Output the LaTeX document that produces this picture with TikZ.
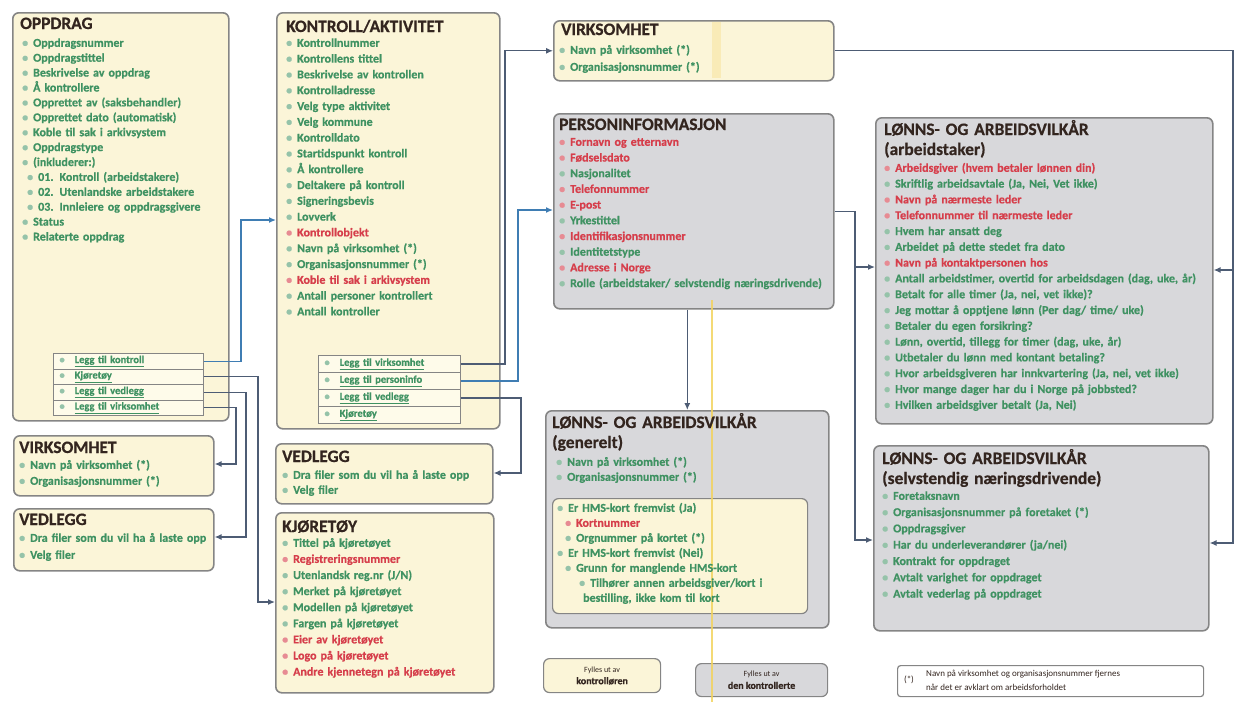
\documentclass[tikz,border=0pt]{standalone}
\usepackage{fontspec}
\setmainfont{Carlito}[BoldFeatures={FakeBold=0.6}]
\usetikzlibrary{arrows.meta}
\definecolor{yfill}{HTML}{FBF5D8}
\definecolor{gfill}{HTML}{D8D8DB}
\definecolor{bord}{HTML}{858585}
\definecolor{rowf}{HTML}{FEFBEA}
\definecolor{tg}{HTML}{3F9262}
\definecolor{tr}{HTML}{D63E4B}
\definecolor{tt}{HTML}{33251F}
\definecolor{connc}{HTML}{4D5C74}
\definecolor{connb}{HTML}{3F7DB3}
\definecolor{hl}{HTML}{F2D35E}
\newcommand\gi[1]{{\color{tg!55}\textbullet}\hspace{5pt}{\color{tg}#1}}
\newcommand\ri[1]{{\color{tr!60}\textbullet}\hspace{5pt}{\color{tr}#1}}
\newcommand\rowt[1]{{\color{tg!55}\textbullet}\hspace{10pt}{\color{tg}\underline{#1}}}
\tikzset{
  box/.style={anchor=north west, draw=bord, line width=1.6pt, rounded corners=6pt, inner sep=0pt},
  ybox/.style={box, fill=yfill},
  gbox/.style={box, fill=gfill},
  ttl/.style={anchor=base west, inner sep=0pt, text=tt, text width=340pt, align=left,
    font=\bfseries\fontsize{17.4}{20}\selectfont},
  itm/.style={anchor=base west, inner sep=0pt, text width=340pt, align=left,
    font=\bfseries\fontsize{12}{#1}\selectfont},
  rowA/.style={anchor=north west, draw=bord, line width=1pt, fill=rowf, minimum height=15.5pt,
    text width=138pt, inner xsep=6pt, inner ysep=0pt, align=left, font=\bfseries\fontsize{10.5}{11}\selectfont},
  rowB/.style={rowA, minimum height=17pt, text width=130pt},
  conn/.style={draw=connc, line width=1.3pt, -{Latex[length=7pt,width=6pt]}},
}
\begin{document}
\begin{tikzpicture}[x=1pt,y=-1pt]
\useasboundingbox (0,0) rectangle (1237,702);

% ---------------- boxes ----------------
\node[ybox, minimum width=216pt, minimum height=408pt] (opp) at (12,12) {};
\node[ybox, minimum width=223pt, minimum height=416pt] (kon) at (276,12) {};
\node[ybox, minimum width=200pt, minimum height=60pt] (vi) at (13,435) {};
\node[ybox, minimum width=200pt, minimum height=62pt] (vl) at (13,508) {};
\node[ybox, minimum width=217pt, minimum height=60pt] (vm) at (275,443) {};
\node[ybox, minimum width=218pt, minimum height=180pt] (kj) at (275,512) {};
\node[ybox, minimum width=280pt, minimum height=60pt] (vt) at (553,20) {};
\node[gbox, minimum width=280pt, minimum height=195pt] (pers) at (553,113) {};
\node[gbox, minimum width=283pt, minimum height=217pt] (gen) at (545,410) {};
\node[ybox, line width=1.2pt, minimum width=255pt, minimum height=115pt] (geni) at (552,498) {};
\node[gbox, minimum width=337pt, minimum height=306pt] (arb) at (875,117) {};
\node[gbox, minimum width=335pt, minimum height=185pt] (selv) at (873,445) {};
\node[ybox, line width=1.2pt, minimum width=117pt, minimum height=34pt] (leg1) at (543,658) {};
\node[gbox, line width=1.2pt, minimum width=132pt, minimum height=33pt] (leg2) at (695,663) {};
\node[box, fill=white, line width=1.2pt, rounded corners=3pt, minimum width=306pt, minimum height=31pt] (fn) at (897,665) {};

% highlight marks of the original
\fill[hl!45] (712,22) rectangle (721,78);
\fill[hl, opacity=0.85] (711,300) rectangle (713,702);

% ---------------- OPPDRAG ----------------
\node[ttl] (oppT) at (20,29) {OPPDRAG};
\node[itm=14.9] (oppI) at (22,46.8) {\gi{Oppdragsnummer}\\
\gi{Oppdragstittel}\\
\gi{Beskrivelse av oppdrag}\\
\gi{Å kontrollere}\\
\gi{Opprettet av (saksbehandler)}\\
\gi{Opprettet dato (automatisk)}\\
\gi{Koble til sak i arkivsystem}\\
\gi{Oppdragstype}\\
\gi{(inkluderer:)}\\
\hspace*{5pt}\gi{01. Kontroll (arbeidstakere)}\\
\hspace*{5pt}\gi{02. Utenlandske arbeidstakere}\\
\hspace*{5pt}\gi{03. Innleiere og oppdragsgivere}\\
\gi{Status}\\
\gi{Relaterte oppdrag}};
\node[rowA] (or1) at (53,353) {\rowt{Legg til kontroll}};
\node[rowA] (or2) at (53,368.5) {\rowt{Kjøretøy}};
\node[rowA] (or3) at (53,384) {\rowt{Legg til vedlegg}};
\node[rowA] (or4) at (53,399.5) {\rowt{Legg til virksomhet}};

% ---------------- KONTROLL/AKTIVITET ----------------
\node[ttl] (konT) at (286,32) {KONTROLL/AKTIVITET};
\node[itm=15.8] (konI) at (286,46.8) {\gi{Kontrollnummer}\\
\gi{Kontrollens tittel}\\
\gi{Beskrivelse av kontrollen}\\
\gi{Kontrolladresse}\\
\gi{Velg type aktivitet}\\
\gi{Velg kommune}\\
\gi{Kontrolldato}\\
\gi{Startidspunkt kontroll}\\
\gi{Å kontrollere}\\
\gi{Deltakere på kontroll}\\
\gi{Signeringsbevis}\\
\gi{Lovverk}\\
\ri{Kontrollobjekt}\\
\gi{Navn på virksomhet (*)}\\
\gi{Organisasjonsnummer (*)}\\
\ri{Koble til sak i arkivsystem}\\
\gi{Antall personer kontrollert}\\
\gi{Antall kontroller}};
\node[rowB] (kr1) at (318,355) {\rowt{Legg til virksomhet}};
\node[rowB] (kr2) at (318,372) {\rowt{Legg til personinfo}};
\node[rowB] (kr3) at (318,389) {\rowt{Legg til vedlegg}};
\node[rowB] (kr4) at (318,406) {\rowt{Kjøretøy}};

% ---------------- VIRKSOMHET / VEDLEGG left ----------------
\node[ttl] (viT) at (19,453) {VIRKSOMHET};
\node[itm=16] (viI) at (19,468.8) {\gi{Navn på virksomhet (*)}\\ \gi{Organisasjonsnummer (*)}};
\node[ttl] (vlT) at (19,525) {VEDLEGG};
\node[itm=17] (vlI) at (19,541.8) {\gi{Dra filer som du vil ha å laste opp}\\ \gi{Velg filer}};

% ---------------- VEDLEGG / KJØRETØY middle ----------------
\node[ttl] (vmT) at (282,462) {VEDLEGG};
\node[itm=15] (vmI) at (282,478.8) {\gi{Dra filer som du vil ha å laste opp}\\ \gi{Velg filer}};
\node[ttl] (kjT) at (282,532) {KJØRETØY};
\node[itm=16.1] (kjI) at (282,546.8) {\gi{Tittel på kjøretøyet}\\
\ri{Registreringsnummer}\\
\gi{Utenlandsk reg.nr (J/N)}\\
\gi{Merket på kjøretøyet}\\
\gi{Modellen på kjøretøyet}\\
\gi{Fargen på kjøretøyet}\\
\ri{Eier av kjøretøyet}\\
\ri{Logo på kjøretøyet}\\
\ri{Andre kjennetegn på kjøretøyet}};

% ---------------- VIRKSOMHET top ----------------
\node[ttl] (vtT) at (561,35) {VIRKSOMHET};
\node[itm=17] (vtI) at (559,53.8) {\gi{Navn på virksomhet (*)}\\ \gi{Organisasjonsnummer (*)}};

% ---------------- PERSONINFORMASJON ----------------
\node[ttl] (persT) at (559,130) {PERSONINFORMASJON};
\node[itm=15.7] (persI) at (559,145.8) {\ri{Fornavn og etternavn}\\
\ri{Fødselsdato}\\
\gi{Nasjonalitet}\\
\ri{Telefonnummer}\\
\ri{E-post}\\
\gi{Yrkestittel}\\
\ri{Identifikasjonsnummer}\\
\gi{Identitetstype}\\
\ri{Adresse i Norge}\\
\gi{Rolle (arbeidstaker/ selvstendig næringsdrivende)}};

% ---------------- LØNNS- OG ARBEIDSVILKÅR (generelt) ----------------
\node[ttl] (genT) at (552,428) {LØNNS- OG ARBEIDSVILKÅR\\(generelt)};
\node[itm=15] (genI) at (556,465.8) {\gi{Navn på virksomhet (*)}\\ \gi{Organisasjonsnummer (*)}};
\node[itm=15] (geniI) at (557,511.8) {\gi{Er HMS-kort fremvist (Ja)}\\
\hspace*{8pt}\ri{Kortnummer}\\
\hspace*{8pt}\gi{Orgnummer på kortet (*)}\\
\gi{Er HMS-kort fremvist (Nei)}\\
\hspace*{8pt}\gi{Grunn for manglende HMS-kort}\\
\hspace*{22pt}\gi{Tilhører annen arbeidsgiver/kort i}\\
\hspace*{26pt}{\color{tg}bestilling, ikke kom til kort}};

% ---------------- LØNNS- OG ARBEIDSVILKÅR (arbeidstaker) ----------------
\node[ttl] (arbT) at (884,135) {LØNNS- OG ARBEIDSVILKÅR\\(arbeidstaker)};
\node[itm=15.8] (arbI) at (884,171.8) {\ri{Arbeidsgiver (hvem betaler lønnen din)}\\
\gi{Skriftlig arbeidsavtale (Ja, Nei, Vet ikke)}\\
\ri{Navn på nærmeste leder}\\
\ri{Telefonnummer til nærmeste leder}\\
\gi{Hvem har ansatt deg}\\
\gi{Arbeidet på dette stedet fra dato}\\
\ri{Navn på kontaktpersonen hos}\\
\gi{Antall arbeidstimer, overtid for arbeidsdagen (dag, uke, år)}\\
\gi{Betalt for alle timer (Ja, nei, vet ikke)?}\\
\gi{Jeg mottar å opptjene lønn (Per dag/ time/ uke)}\\
\gi{Betaler du egen forsikring?}\\
\gi{Lønn, overtid, tillegg for timer (dag, uke, år)}\\
\gi{Utbetaler du lønn med kontant betaling?}\\
\gi{Hvor arbeidsgiveren har innkvartering (Ja, nei, vet ikke)}\\
\gi{Hvor mange dager har du i Norge på jobbsted?}\\
\gi{Hvilken arbeidsgiver betalt (Ja, Nei)}};

% ---------------- LØNNS- OG ARBEIDSVILKÅR (selvstendig) ----------------
\node[ttl] (selvT) at (882,464) {LØNNS- OG ARBEIDSVILKÅR\\(selvstendig næringsdrivende)};
\node[itm=16.3] (selvI) at (882,499.8) {\gi{Foretaksnavn}\\
\gi{Organisasjonsnummer på foretaket (*)}\\
\gi{Oppdragsgiver}\\
\gi{Har du underleverandører (ja/nei)}\\
\gi{Kontrakt for oppdraget}\\
\gi{Avtalt varighet for oppdraget}\\
\gi{Avtalt vederlag på oppdraget}};

% ---------------- legend / footnote ----------------
\node[align=center, text=tt, inner sep=0pt] (leg1T) at (leg1.center)
  {{\fontsize{8}{11}\selectfont Fylles ut av}\\{\bfseries\fontsize{10}{12}\selectfont kontrolløren}};
\node[align=center, text=tt, inner sep=0pt] (leg2T) at (leg2.center)
  {{\fontsize{8}{11}\selectfont Fylles ut av}\\{\bfseries\fontsize{10}{12}\selectfont den kontrollerte}};
\node[text=tt, inner sep=0pt, font=\fontsize{9}{10}\selectfont] (fnA) at (909,680) {(*)};
\node[anchor=west, align=left, text=tt, inner sep=0pt, font=\fontsize{9}{14}\selectfont] (fnB) at (926,680)
  {Navn på virksomhet og organisasjonsnummer fjernes\\når det er avklart om arbeidsforholdet};

% ---------------- connector end points ----------------
\coordinate (kIn) at (kon.west |- 0,220);
\coordinate (kjIn) at (kj.west |- 0,602);
\coordinate (vlIn) at (vl.east |- 0,537);
\coordinate (viIn) at (vi.east |- 0,464);
\coordinate (pIn) at (pers.west |- 0,210);
\coordinate (vmIn) at (vm.east |- 0,473);
\coordinate (rBot) at (1233,543);
\coordinate (rBr) at (1233,270);
\coordinate (sInR) at (selv.east |- rBot);
\coordinate (aInR) at (arb.east |- rBr);
\coordinate (lBot) at (855,540);
\coordinate (lBr) at (855,267);
\coordinate (sInL) at (selv.west |- lBot);
\coordinate (aInL) at (arb.west |- lBr);

% ---------------- connectors ----------------
\draw[conn, draw=connb] (or1.east) -- ++(37,0) |- (kIn);
\draw[conn] (or2.east) -- ++(54,0) |- (kjIn);
\draw[conn] (or3.east) -- ++(42,0) |- (vlIn);
\draw[conn] (or4.east) -- ++(32,0) |- (viIn);
\draw[conn] (kr1.east) -- ++(44,0) |- (vt.west);
\draw[conn, draw=connb] (kr2.east) -- ++(57,0) |- (pIn);
\draw[conn] (kr3.east) -- ++(60,0) |- (vmIn);
\draw[conn] (vt.east) -| (rBot) -- (sInR);
\draw[conn] (rBr) -- (aInR);
\draw[conn] (pers.east) -| (lBot) -- (sInL);
\draw[conn] (lBr) -- (aInL);
\draw[conn] (pers.south -| gen.north) -- (gen.north);
\end{tikzpicture}
\end{document}
